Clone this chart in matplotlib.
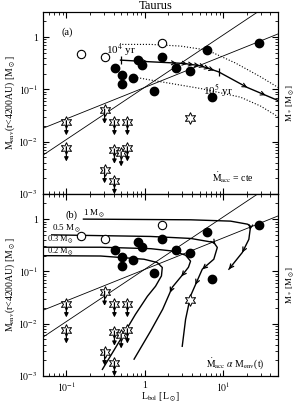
import numpy as np
import matplotlib.pyplot as plt
from matplotlib.ticker import FixedLocator, FuncFormatter, LogLocator, NullFormatter

plt.rcParams['font.family'] = 'serif'
plt.rcParams['font.serif'] = ['Liberation Serif', 'DejaVu Serif']
plt.rcParams['mathtext.fontset'] = 'stix'

# sources (Lbol [Lsun], Menv [Msun])
open_x = [0.152, 0.308, 1.67]
open_y = [0.467, 0.41, 0.76]
filled_x = [0.412, 0.506, 0.506, 0.714, 0.817, 0.929, 1.31, 1.64, 2.47, 3.76, 6.12, 7.1, 28.4]
filled_y = [0.252, 0.188, 0.125, 0.167, 0.363, 0.29, 0.094, 0.42, 0.252, 0.224, 0.564, 0.072, 0.757]
lim_x = [0.1, 0.1, 0.307, 0.41, 0.6, 0.41, 0.5, 0.6, 0.307, 0.41]
lim_y = [0.024, 0.0076, 0.040, 0.024, 0.024, 0.0069, 0.0061, 0.0076, 0.0029, 0.0018]
star_x = [3.76]
star_y = [0.029]

# boundary lines
line_a_x = [0.05, 50]
line_a_y = [0.018, 1.15]
line_b_x = [0.05, 50]
line_b_y = [0.0055, 5.5]

# (a) Macc = cte
track_x = [0.49, 1.19, 3.12, 5.14, 8.7, 20.2, 51]
track_y = [0.363, 0.337, 0.314, 0.283, 0.217, 0.109, 0.0605]
track_arrows_x = [1.08, 2.54, 3.47, 4.18, 4.99, 5.78, 6.69, 7.63, 20.2, 34.6]
tick_x = [0.49, 8.7]
tick_y = [0.363, 0.217]
dot1_x = [0.516, 1.19, 2.86, 6.25, 14.4, 29.9, 50]
dot1_y = [0.725, 0.725, 0.673, 0.564, 0.318, 0.174, 0.109]
dot2_x = [0.80, 1.19, 5.14, 16.6, 29.9, 50]
dot2_y = [0.168, 0.151, 0.104, 0.071, 0.048, 0.030]

# (b) Macc ~ Menv(t)
m1_x = [0.165, 3.84, 12.4, 20.4, 22.3, 21.2, 17.5, 11.8]
m1_y = [1.0, 0.97, 0.915, 0.80, 0.73, 0.41, 0.23, 0.11]
m05_x = [0.065, 1.19, 3.84, 7.58, 8.4, 7.58, 5.4, 3.83, 3.31, 3.0]
m05_y = [0.5, 0.466, 0.427, 0.358, 0.287, 0.171, 0.11, 0.034, 0.0121, 0.0037]
m03_x = [0.0514, 0.274, 1.19, 2.33, 3.31, 3.83, 3.6, 3.0, 2.24, 1.69, 1.19, 0.73]
m03_y = [0.29, 0.29, 0.272, 0.244, 0.204, 0.157, 0.12, 0.0846, 0.0498, 0.0189, 0.0073, 0.0021]
m02_x = [0.0514, 0.274, 0.975, 1.44, 1.67, 1.63, 1.37, 1.08, 0.76, 0.49, 0.288]
m02_y = [0.2, 0.197, 0.171, 0.148, 0.119, 0.082, 0.052, 0.0335, 0.0151, 0.005, 0.00134]
b_arrows = [(22.0, 0.62), (17.5, 0.23), (8.2, 0.33), (5.4, 0.11), (3.7, 0.13), (2.6, 0.065), (1.67, 0.11), (1.26, 0.0456)]


def arrow_on(ax, xs, ys, px, py, lw=0.8):
    lx, ly = np.log10(xs), np.log10(ys)
    qx, qy = np.log10(px), np.log10(py)
    best, d = None, 1e9
    for i in range(len(lx) - 1):
        ax_, ay_ = lx[i], ly[i]
        bx, by = lx[i + 1], ly[i + 1]
        vx, vy = bx - ax_, by - ay_
        t = np.clip(((qx - ax_) * vx + (qy - ay_) * vy) / (vx * vx + vy * vy), 0, 1)
        cx, cy = ax_ + t * vx, ay_ + t * vy
        dd = np.hypot(qx - cx, qy - cy)
        if dd < d:
            d, best = dd, (cx, cy, vx, vy)
    cx, cy, vx, vy = best
    n = np.hypot(vx, vy)
    sx, sy = cx - 0.05 * vx / n, cy - 0.05 * vy / n
    ax.annotate('', xy=(10**cx, 10**cy), xytext=(10**sx, 10**sy),
                arrowprops=dict(arrowstyle='->', lw=lw, color='k', mutation_scale=7,
                                shrinkA=0, shrinkB=0), zorder=5)


def fmt(v, pos):
    if abs(v - 1) < 1e-9:
        return '1'
    return r'$10^{%d}$' % round(np.log10(v))


def base(ax, show_x):
    ax.set_xscale('log')
    ax.set_yscale('log')
    ax.set_xlim(0.05, 50)
    ax.set_ylim(1e-3, 3)
    ax.plot(line_a_x, line_a_y, 'k-', lw=0.6)
    ax.plot(line_b_x, line_b_y, 'k-', lw=0.6)
    ax.plot(open_x, open_y, 'o', mfc='white', mec='k', ms=6, mew=0.8, zorder=4)
    ax.plot(filled_x, filled_y, 'o', color='k', ms=6, zorder=4)
    ax.plot(lim_x, lim_y, marker=(6, 1, 0), ls='none', mfc='white', mec='k', ms=8.5, mew=0.7, zorder=4)
    for x, y in zip(lim_x, lim_y):
        ax.annotate('', xy=(x, y * 0.55), xytext=(x, y * 1.05),
                    arrowprops=dict(arrowstyle='-|>', lw=0.9, color='k', mutation_scale=6,
                                    shrinkA=0, shrinkB=0), zorder=5)
    ax.plot(star_x, star_y, marker=(6, 1, 0), ls='none', mfc='white', mec='k', ms=8.5, mew=0.7, zorder=4)
    ax.xaxis.set_major_locator(FixedLocator([0.1, 1, 10]))
    ax.xaxis.set_minor_locator(LogLocator(base=10, subs=np.arange(2, 10)))
    ax.yaxis.set_major_locator(FixedLocator([1e-3, 1e-2, 1e-1, 1]))
    ax.yaxis.set_minor_locator(LogLocator(base=10, subs=np.arange(2, 10)))
    ax.yaxis.set_major_formatter(FuncFormatter(fmt))
    ax.yaxis.set_minor_formatter(NullFormatter())
    ax.xaxis.set_minor_formatter(NullFormatter())
    if show_x:
        ax.xaxis.set_major_formatter(FuncFormatter(fmt))
    else:
        ax.xaxis.set_major_formatter(NullFormatter())
    ax.tick_params(which='both', direction='in', top=True, right=False, labelsize=7)
    ax.tick_params(which='major', length=4)
    ax.tick_params(which='minor', length=2)
    ax.set_ylabel(r'M$_{\rm env}$(r<4200AU) [M$_\odot$]', fontsize=7)
    ax.yaxis.set_label_coords(-0.11, 0.5)
    tw = ax.twinx()
    tw.set_yscale('log')
    tw.set_ylim(1e-3, 3)
    tw.yaxis.set_major_locator(FixedLocator([1e-3, 1e-2, 1e-1, 1]))
    tw.yaxis.set_minor_locator(LogLocator(base=10, subs=np.arange(2, 10)))
    tw.yaxis.set_major_formatter(NullFormatter())
    tw.yaxis.set_minor_formatter(NullFormatter())
    tw.tick_params(which='both', direction='in')
    tw.tick_params(which='major', length=4)
    tw.tick_params(which='minor', length=2)
    tw.set_ylabel(r'M$_*$ [M$_\odot$]', fontsize=6.5)
    tw.yaxis.set_label_coords(1.027, 0.5)
    for s in ax.spines.values():
        s.set_linewidth(0.8)


fig = plt.figure(figsize=(2.99, 4.05), dpi=100)
ax1 = fig.add_axes([0.143, 0.521, 0.787, 0.449])
ax2 = fig.add_axes([0.143, 0.0716, 0.787, 0.449])
base(ax1, False)
base(ax2, True)

# panel a
ax1.plot(dot1_x, dot1_y, 'k:', lw=0.8)
ax1.plot(dot2_x, dot2_y, 'k:', lw=0.8)
ax1.plot(track_x, track_y, 'k-', lw=1.0)
ax1.plot(tick_x, tick_y, 'k|', ms=6, mew=0.9)
for x in track_arrows_x:
    y = 10**np.interp(np.log10(x), np.log10(track_x), np.log10(track_y))
    arrow_on(ax1, track_x, track_y, x, y)
ax1.text(0.32, 0.56, r'10$^4$ yr', fontsize=8, ha='left', va='center')
ax1.text(5.6, 0.095, r'10$^5$ yr', fontsize=8, ha='left', va='center')
ax1.text(0.08, 0.89, '(a)', transform=ax1.transAxes, fontsize=7.5, va='center')
ax1.text(0.81, 0.09, r'$\dot{\rm M}_{\rm acc}$ = cte', transform=ax1.transAxes,
         fontsize=7, ha='center', va='center')

# panel b
for xs, ys in [(m1_x, m1_y), (m05_x, m05_y), (m03_x, m03_y), (m02_x, m02_y)]:
    ax2.plot(xs, ys, 'k-', lw=1.0)
for px, py in b_arrows:
    for xs, ys in [(m1_x, m1_y), (m05_x, m05_y), (m03_x, m03_y), (m02_x, m02_y)]:
        lx = np.log10(xs); ly = np.log10(ys)
        if np.min(np.hypot(lx - np.log10(px), ly - np.log10(py))) < 0.35:
            arrow_on(ax2, xs, ys, px, py, lw=0.9)
            break
ax2.text(0.165, 1.02, r'1 M$_\odot$', fontsize=6.5, ha='left', va='bottom')
ax2.text(0.065, 0.51, r'0.5 M$_\odot$', fontsize=6.5, ha='left', va='bottom')
ax2.text(0.057, 0.318, r'0.3 M$_\odot$', fontsize=6, ha='left', va='bottom')
ax2.text(0.057, 0.192, r'0.2 M$_\odot$', fontsize=6, ha='left', va='bottom')
ax2.text(0.095, 0.885, '(b)', transform=ax2.transAxes, fontsize=7.5, va='center')
ax2.text(0.82, 0.07, r'$\dot{\rm M}_{\rm acc}$ $\alpha$ M$_{\rm env}$(t)', transform=ax2.transAxes,
         fontsize=7, ha='center', va='center')
ax2.set_xlabel(r'L$_{\rm bol}$ [L$_\odot$]', fontsize=7)
ax2.xaxis.set_label_coords(0.5, -0.08)

fig.text(0.52, 0.984, 'Taurus', fontsize=9, ha='center', va='center')

fig.savefig('out.png', dpi=100)
